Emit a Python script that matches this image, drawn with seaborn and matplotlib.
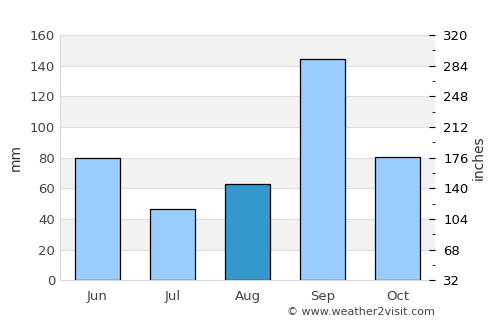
import matplotlib
matplotlib.use('Agg')
import matplotlib.pyplot as plt
import seaborn as sns
import pandas as pd
from matplotlib.ticker import FixedLocator

# data
months = ['Jun', 'Jul', 'Aug', 'Sep', 'Oct']
rain_mm = [79.5, 46.5, 62.5, 144.3, 80.5]
bar_colors = ['#99ccff', '#99ccff', '#3399cc', '#99ccff', '#99ccff']
right_ticks = [32, 68, 104, 140, 176, 212, 248, 284, 320]

sns.set_style('white')
plt.rcParams['font.family'] = ['DejaVu Sans']

df = pd.DataFrame({'month': months, 'mm': rain_mm})

fig = plt.figure(figsize=(5, 3.25), dpi=100)
ax = fig.add_axes([0.12, 0.138, 0.75, 0.754])

# alternating bands
for i in range(8):
    if i % 2 == 1:
        ax.axhspan(i * 20, (i + 1) * 20, color='#f2f2f2', zorder=0, lw=0)
for y in range(20, 161, 20):
    ax.axhline(y, color='#dddddd', lw=0.8, zorder=0.5)

sns.barplot(data=df, x='month', y='mm', hue='month', palette=bar_colors,
            saturation=1, legend=False, width=0.6, edgecolor='black',
            linewidth=0.9, ax=ax, zorder=2)

ax.set_ylim(0, 160)
ax.set_xlim(-0.5, 4.5)
ax.set_yticks(range(0, 161, 20))
ax.set_xlabel('')
ax.set_ylabel('mm', color='#333333', fontsize=10, labelpad=5)
ax.tick_params(axis='both', colors='#444444', labelsize=9.5, length=0)
ax.tick_params(axis='x', pad=7)
for s in ['top', 'right']:
    ax.spines[s].set_visible(False)
for s in ['left', 'bottom']:
    ax.spines[s].set_color('#d8d8d8')

ax2 = ax.twinx()
ax2.set_ylim(32, 320)
ax2.set_yticks(right_ticks)
minor = [(a + b) / 2 for a, b in zip(right_ticks[:-1], right_ticks[1:])]
ax2.yaxis.set_minor_locator(FixedLocator(minor))
ax2.tick_params(axis='y', which='major', direction='in', length=4, pad=6,
                labelsize=9.5, colors='black')
ax2.tick_params(axis='y', which='minor', direction='in', length=2.5, colors='black')
ax2.set_ylabel('inches', fontsize=10, color='#333333', labelpad=2)
for s in ax2.spines.values():
    s.set_visible(False)

fig.text(0.87, 0.025, '© www.weather2visit.com', ha='right', va='bottom',
         fontsize=8, color='#444444')

fig.savefig('out.png', dpi=100)
